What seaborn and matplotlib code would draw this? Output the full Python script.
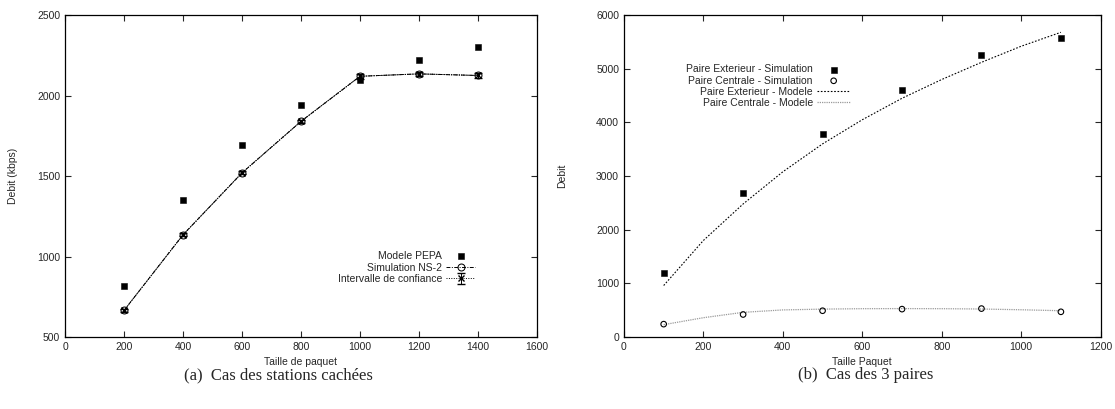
import matplotlib
matplotlib.use("Agg")
import matplotlib.pyplot as plt
import seaborn as sns
import pandas as pd

# (a) Cas des stations cachees
taille_a = [200, 400, 600, 800, 1000, 1200, 1400]
pepa = [820, 1350, 1695, 1940, 2100, 2220, 2300]
ns2 = [665, 1135, 1520, 1840, 2120, 2135, 2125]
ic_err = [8, 10, 10, 10, 15, 12, 15]

# (b) Cas des 3 paires
taille_b = [100, 300, 500, 700, 900, 1100]
ext_sim = [1200, 2680, 3780, 4610, 5260, 5580]
cen_sim = [240, 420, 490, 520, 530, 470]
taille_mod = [100, 200, 300, 400, 500, 600, 700, 800, 900, 1000, 1100]
ext_mod = [960, 1800, 2480, 3080, 3600, 4050, 4450, 4800, 5120, 5420, 5680]
cen_mod = [230, 360, 460, 505, 520, 528, 530, 528, 522, 508, 490]

sns.set_style("ticks")
plt.rcParams["font.family"] = ["Liberation Sans", "DejaVu Sans"]
plt.rcParams["xtick.direction"] = "in"
plt.rcParams["ytick.direction"] = "in"
plt.rcParams["xtick.top"] = True
plt.rcParams["ytick.right"] = True
plt.rcParams["axes.linewidth"] = 0.9

fig = plt.figure(figsize=(11.15, 4.09), dpi=100)
ax1 = fig.add_axes([0.0583, 0.176, 0.4233, 0.787])
ax2 = fig.add_axes([0.5596, 0.176, 0.4275, 0.787])

df_a = pd.DataFrame({"x": taille_a, "pepa": pepa, "ns2": ns2})

sns.scatterplot(data=df_a, x="x", y="pepa", ax=ax1, marker="s", s=22, color="black",
                edgecolor="black", label="Modele PEPA", zorder=3)
sns.lineplot(data=df_a, x="x", y="ns2", ax=ax1, color="black", lw=0.7,
             linestyle=(0, (4, 1.5, 1, 1.5)), marker="o", markersize=5,
             markerfacecolor="none", markeredgecolor="black", label="Simulation NS-2")
ax1.errorbar(taille_a, ns2, yerr=ic_err, fmt="x", color="black", ms=5, lw=0.7,
             capsize=3, ls=(0, (1, 1.5)), label="Intervalle de confiance")
ax1.plot(taille_a, ns2, color="black", lw=0.6, ls=(0, (1, 1.5)))

ax1.set_xlim(0, 1600)
ax1.set_ylim(500, 2500)
ax1.set_xticks(range(0, 1601, 200))
ax1.set_yticks(range(500, 2501, 500))
ax1.set_xlabel("Taille de paquet", fontsize=7.5)
ax1.set_ylabel("Debit (kbps)", fontsize=7.5)
ax1.yaxis.set_label_coords(-0.1, 0.5)
ax1.tick_params(labelsize=7.5, length=4, width=0.8)
ax1.legend(loc="upper right", bbox_to_anchor=(0.885, 0.29), frameon=False, markerfirst=False,
           fontsize=7.5, handlelength=2.8, labelspacing=0.15, borderpad=0.2, handletextpad=0.4)

df_b = pd.DataFrame({"x": taille_b, "ext": ext_sim, "cen": cen_sim})
df_m = pd.DataFrame({"x": taille_mod, "ext": ext_mod, "cen": cen_mod})

sns.scatterplot(data=df_b, x="x", y="ext", ax=ax2, marker="s", s=22, color="black",
                edgecolor="black", label="Paire Exterieur - Simulation", zorder=3)
sns.scatterplot(data=df_b, x="x", y="cen", ax=ax2, marker="o", s=16, facecolor="none",
                edgecolor="black", linewidth=0.8, label="Paire Centrale - Simulation", zorder=3)
sns.lineplot(data=df_m, x="x", y="ext", ax=ax2, color="black", lw=0.8,
             linestyle=(0, (1.5, 1.5)), label="Paire Exterieur - Modele")
sns.lineplot(data=df_m, x="x", y="cen", ax=ax2, color="#9a9a9a", lw=0.9,
             linestyle=(0, (1, 0.8)), label="Paire Centrale - Modele")

ax2.set_xlim(0, 1200)
ax2.set_ylim(0, 6000)
ax2.set_xticks(range(0, 1201, 200))
ax2.set_yticks(range(0, 6001, 1000))
ax2.set_xlabel("Taille Paquet", fontsize=7.5)
ax2.set_ylabel("Debit", fontsize=7.5)
ax2.yaxis.set_label_coords(-0.12, 0.5)
ax2.tick_params(labelsize=7.5, length=4, width=0.8)
ax2.legend(loc="upper left", bbox_to_anchor=(0.115, 0.87), frameon=False, markerfirst=False,
           fontsize=7.5, handlelength=3.2, labelspacing=0.12, borderpad=0.2, handletextpad=0.4)

for ax in (ax1, ax2):
    for sp in ax.spines.values():
        sp.set_visible(True)
        sp.set_color("black")

fig.text(0.2495, 0.083, "(a)  Cas des stations cachées", ha="center", va="center",
         fontsize=12, family="Liberation Serif")
fig.text(0.7762, 0.083, "(b)  Cas des 3 paires", ha="center", va="center",
         fontsize=12, family="Liberation Serif")

fig.savefig("out.png", dpi=100)
